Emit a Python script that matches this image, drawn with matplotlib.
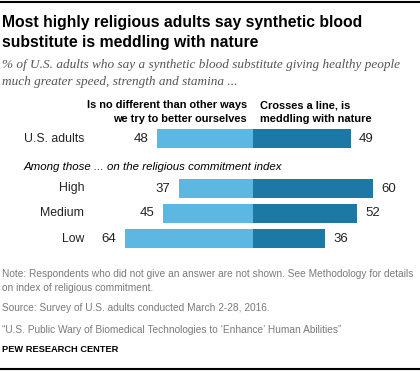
import matplotlib
matplotlib.use('Agg')
import matplotlib.pyplot as plt

# Données
categories = ['U.S. adults', 'High', 'Medium', 'Low']
pas_different = [48, 37, 45, 64]      # "Is no different than other ways..."
franchit_ligne = [49, 60, 52, 36]     # "Crosses a line, is meddling with nature"

clair = '#5cb8e2'
fonce = '#1c78a5'
gris = '#7a7a7a'

W, H = 420, 371
fig = plt.figure(figsize=(W / 100, H / 100), dpi=100)
rendu = fig.canvas.get_renderer()

# axes plein cadre : x en unités de %, y en pixels
ax = fig.add_axes([0, 0, 1, 1])
centre = 253
ax.set_xlim(-centre / 2, (W - centre) / 2)
ax.set_ylim(H, 0)
ax.axis('off')

police = 'Liberation Sans'


def txt(x, y, s, largeur=None, **kw):
    """Texte placé en pixels ; si largeur est donnée, la taille est ajustée pour la tenir."""
    kw.setdefault('family', police)
    kw.setdefault('va', 'center')
    t = fig.text(x / W, 1 - y / H, s, **kw)
    if largeur is not None:
        w = t.get_window_extent(rendu).width
        t.set_fontsize(t.get_fontsize() * largeur / w)
    return t


# filets haut et bas
ax.plot([-centre / 2, (W - centre) / 2], [1.5, 1.5], color='black', lw=1.5)
ax.plot([-centre / 2, (W - centre) / 2], [369, 369], color='black', lw=1.5)

# titre et sous-titre
t1 = txt(2, 22, 'Most highly religious adults say synthetic blood', largeur=358,
         fontsize=12, fontweight='bold')
txt(2, 43, 'substitute is meddling with nature', fontsize=t1.get_fontsize(),
    fontweight='bold')
s1 = txt(2, 65, '% of U.S. adults who say a synthetic blood substitute giving healthy people',
         largeur=398, fontsize=9, style='italic', family='Liberation Serif', color='#555555')
txt(2, 82, 'much greater speed, strength and stamina ...', fontsize=s1.get_fontsize(),
    style='italic', family='Liberation Serif', color='#555555')

# en-têtes des colonnes
h1 = txt(247, 105, 'Is no different than other ways', largeur=160, fontsize=9,
         fontweight='bold', ha='right')
fh = h1.get_fontsize()
txt(247, 119, 'we try to better ourselves', fontsize=fh, fontweight='bold', ha='right')
txt(260, 105, 'Crosses a line, is', fontsize=fh, fontweight='bold')
txt(260, 119, 'meddling with nature', fontsize=fh, fontweight='bold')

txt(24, 167, 'Among those ... on the religious commitment index', largeur=258,
    fontsize=9, style='italic')

# barres
rangs = [138.5, 188.5, 213.5, 238.5]
hauteur = 19.5
ax.barh(rangs, [-v for v in pas_different], height=hauteur, left=0, color=clair)
ax.barh(rangs, franchit_ligne, height=hauteur, left=0, color=fonce)

for y, cat, g, d in zip(rangs, categories, pas_different, franchit_ligne):
    ax.text(-centre / 2 + 84 / 2, y, cat, ha='right', va='center', fontsize=8.8,
            family=police, color='#222222')
    ax.text(-g - 4.5, y, str(g), ha='right', va='center', fontsize=9.5,
            family=police, color='#222222')
    ax.text(d + 4, y, str(d), ha='left', va='center', fontsize=9.5,
            family=police, color='#222222')

# notes
n1 = txt(2, 274, 'Note: Respondents who did not give an answer are not shown. See Methodology for details',
         largeur=410, fontsize=7.6, color=gris)
fn = n1.get_fontsize()
txt(2, 288, 'on index of religious commitment.', fontsize=fn, color=gris)
txt(2, 308, 'Source: Survey of U.S. adults conducted March 2-28, 2016.', fontsize=fn,
    color=gris)
txt(2, 330, '\u201cU.S. Public Wary of Biomedical Technologies to \u2018Enhance\u2019 Human Abilities\u201d',
    fontsize=fn, color=gris)
txt(2, 349, 'PEW RESEARCH CENTER', largeur=115, fontsize=7.6, fontweight='bold',
    color='black')

fig.savefig('out.png', dpi=100)
